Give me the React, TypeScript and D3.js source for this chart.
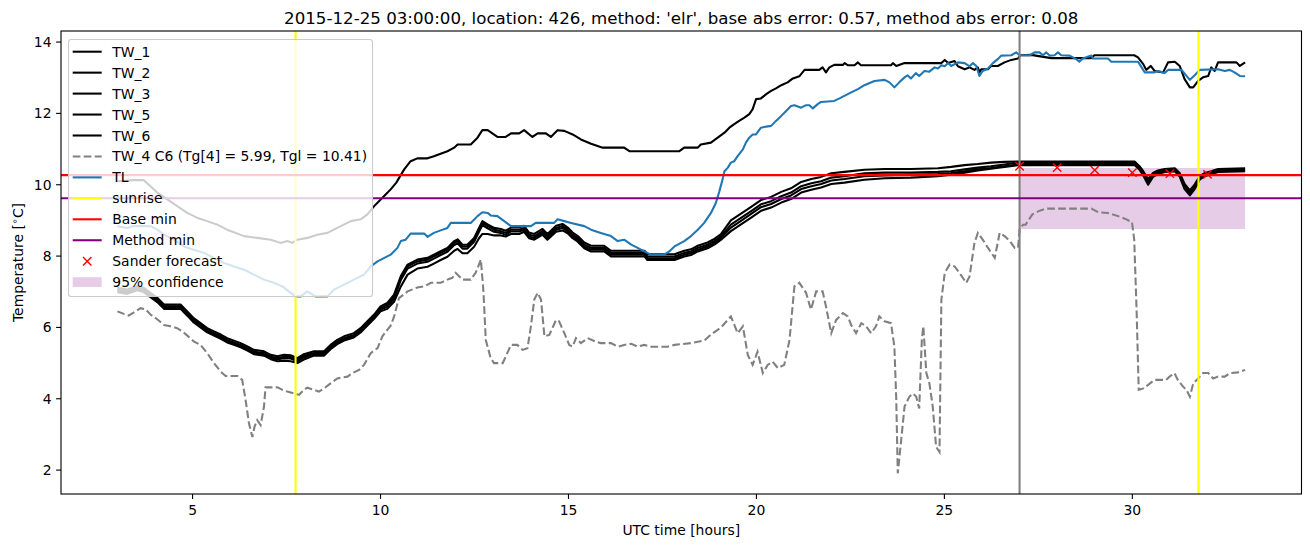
import React from "react";
import * as d3 from "d3";

type P = [number, number];

// ---------- data ----------
const title =
  "2015-12-25 03:00:00, location: 426, method: 'elr', base abs error: 0.57, method abs error: 0.08";
const xTicks = [5, 10, 15, 20, 25, 30];
const yTicks = [2, 4, 6, 8, 10, 12, 14];

const tw1: P[] = [
  [3.0, 10.1], [3.44, 10.13], [3.7, 10.13], [3.88, 9.96], [4.06, 9.78], [4.33, 9.59], [4.59, 9.4], [4.86, 9.21], [5.13, 9.07], [5.39, 8.98],
  [5.66, 8.88], [5.92, 8.74], [6.37, 8.56], [6.72, 8.51], [7.08, 8.46], [7.34, 8.37], [7.52, 8.42], [7.65, 8.37], [7.79, 8.46], [8.05, 8.51],
  [8.32, 8.6], [8.59, 8.65], [8.85, 8.79], [9.21, 8.98], [9.47, 9.03], [9.65, 9.17], [9.83, 9.4], [10.09, 9.68], [10.27, 9.87], [10.42, 10.06],
  [10.63, 10.43], [10.8, 10.66], [10.98, 10.74], [11.25, 10.74], [11.42, 10.8], [11.6, 10.87], [11.78, 10.94], [11.96, 11.04], [12.05, 11.13], [12.4, 11.13],
  [12.58, 11.32], [12.71, 11.53], [12.85, 11.53], [13.11, 11.34], [13.33, 11.34], [13.47, 11.44], [13.69, 11.44], [13.82, 11.53], [14.04, 11.34], [14.18, 11.44],
  [14.4, 11.44], [14.53, 11.34], [14.71, 11.53], [14.89, 11.51], [15.11, 11.41], [15.33, 11.27], [15.6, 11.15], [15.91, 11.04], [16.48, 11.04], [16.62, 10.94],
  [17.95, 10.94], [18.08, 11.04], [18.44, 11.04], [18.52, 11.13], [18.79, 11.18], [18.97, 11.32], [19.15, 11.46], [19.28, 11.6], [19.41, 11.7], [19.54, 11.79],
  [19.68, 11.88], [19.81, 11.98], [19.9, 12.12], [19.99, 12.4], [20.12, 12.42], [20.26, 12.54], [20.39, 12.63], [20.52, 12.7], [20.66, 12.79], [20.83, 12.87],
  [20.97, 12.98], [21.14, 13.04], [21.28, 13.22], [21.67, 13.22], [21.76, 13.29], [21.85, 13.15], [21.94, 13.29], [22.07, 13.36], [22.3, 13.36], [22.35, 13.41],
  [22.43, 13.35], [22.61, 13.35], [22.7, 13.43], [22.78, 13.35], [23.58, 13.35], [23.63, 13.41], [23.72, 13.33], [23.94, 13.41], [24.92, 13.41], [25.01, 13.5],
  [25.1, 13.41], [25.27, 13.47], [25.36, 13.32], [25.54, 13.24], [25.67, 13.29], [25.8, 13.22], [25.89, 13.29], [25.93, 13.15], [25.98, 13.24], [26.16, 13.24],
  [26.24, 13.33], [26.42, 13.33], [26.6, 13.43], [26.78, 13.5], [26.96, 13.54], [27.02, 13.63], [27.31, 13.64], [27.84, 13.55], [28.91, 13.55], [28.99, 13.63],
  [30.05, 13.63], [30.15, 13.57], [30.29, 13.38], [30.37, 13.22], [30.49, 13.33], [30.59, 13.19], [30.82, 13.15], [30.95, 13.43], [31.13, 13.45], [31.26, 13.33],
  [31.39, 12.96], [31.53, 12.73], [31.62, 12.73], [31.75, 12.91], [31.88, 13.01], [32.02, 13.05], [32.1, 13.29], [32.19, 13.19], [32.28, 13.43], [32.77, 13.43],
  [32.86, 13.33], [33.0, 13.43],
];

const bundleHours = [
  3.0, 3.26, 3.53, 3.7, 3.88, 4.06, 4.24, 4.68, 4.86, 5.03,
  5.21, 5.39, 5.57, 5.75, 5.92, 6.1, 6.28, 6.46, 6.63, 6.9,
  7.08, 7.26, 7.43, 7.61, 7.79, 7.96, 8.23, 8.5, 8.67, 8.85,
  9.03, 9.29, 9.47, 9.65, 9.83, 10.0,
  10.18, 10.36, 10.54, 10.72, 10.98, 11.25, 11.42, 11.6, 11.78, 11.96,
  12.05, 12.18, 12.31, 12.49, 12.62, 12.71, 12.85, 13.02,
  13.2, 13.33, 13.47, 13.69, 13.82, 13.95, 14.09, 14.31, 14.44, 14.67,
  14.84, 14.98, 15.11, 15.24, 15.42, 15.6, 15.95, 16.13, 17.02, 17.1,
  17.82, 18.08, 18.26, 18.44, 18.7, 18.88, 19.06,
  19.32, 19.59, 19.86, 20.12, 20.39, 20.66, 20.92, 21.19, 21.46,
  21.72, 21.99, 22.34, 22.87, 23.41, 24.11, 24.83, 25.18, 25.54, 25.89,
  26.24, 26.6, 26.96,
  27.04, 30.06, 30.19, 30.29, 30.42, 30.55, 30.68, 30.86, 31.13, 31.26,
  31.39, 31.53, 31.66, 31.79, 31.93, 32.1, 32.28, 33.0,
];

const tw2Values = [
  7.11, 7.06, 7.16, 7.11, 6.97, 6.83, 6.64, 6.64, 6.45, 6.26,
  6.12, 5.98, 5.89, 5.8, 5.7, 5.63, 5.56, 5.47, 5.37, 5.33,
  5.23, 5.19, 5.23, 5.22, 5.14, 5.25, 5.33, 5.33, 5.51, 5.65,
  5.75, 5.84, 5.98, 6.17, 6.36, 6.59,
  6.69, 6.92, 7.44, 7.76, 7.9, 7.95, 8.04, 8.14, 8.23, 8.42,
  8.47, 8.32, 8.32, 8.51, 8.79, 8.98, 8.89, 8.79,
  8.76, 8.71, 8.8, 8.8, 8.85, 8.66, 8.62, 8.76, 8.62, 8.85,
  8.9, 8.8, 8.66, 8.57, 8.38, 8.29, 8.29, 8.15, 8.15, 8.05,
  8.05, 8.15, 8.19, 8.29, 8.38, 8.48, 8.62,
  9.0, 9.19, 9.38, 9.57, 9.66, 9.8, 9.9, 10.08, 10.16,
  10.22, 10.32, 10.36, 10.42, 10.44, 10.44, 10.46, 10.5, 10.55, 10.58,
  10.62, 10.64, 10.65,
  10.65, 10.65, 10.52, 10.38, 10.16, 10.33, 10.4, 10.44, 10.46, 10.33,
  10.02, 9.84, 10.01, 10.24, 10.33, 10.38, 10.44, 10.46,
];

const tw3Values = [
  7.06, 7.01, 7.11, 7.06, 6.92, 6.78, 6.59, 6.59, 6.4, 6.21,
  6.07, 5.93, 5.84, 5.75, 5.65, 5.58, 5.51, 5.42, 5.32, 5.28,
  5.18, 5.14, 5.18, 5.17, 5.09, 5.2, 5.28, 5.28, 5.46, 5.6,
  5.7, 5.79, 5.93, 6.12, 6.31, 6.54,
  6.64, 6.87, 7.39, 7.71, 7.85, 7.9, 7.99, 8.09, 8.18, 8.37,
  8.42, 8.27, 8.27, 8.46, 8.74, 8.93, 8.84, 8.74,
  8.7, 8.65, 8.74, 8.74, 8.79, 8.6, 8.56, 8.7, 8.56, 8.79,
  8.84, 8.74, 8.6, 8.51, 8.32, 8.23, 8.23, 8.09, 8.09, 7.99,
  7.99, 8.09, 8.13, 8.23, 8.32, 8.42, 8.56,
  8.88, 9.07, 9.26, 9.45, 9.54, 9.68, 9.78, 9.96, 10.04,
  10.1, 10.2, 10.24, 10.32, 10.34, 10.34, 10.36, 10.38, 10.43, 10.48,
  10.52, 10.57, 10.62,
  10.62, 10.62, 10.48, 10.34, 10.1, 10.29, 10.36, 10.41, 10.43, 10.29,
  9.96, 9.78, 9.96, 10.2, 10.29, 10.34, 10.41, 10.43,
];

const tw5Values = [
  7.02, 6.97, 7.07, 7.02, 6.88, 6.74, 6.55, 6.55, 6.36, 6.17,
  6.03, 5.89, 5.8, 5.71, 5.61, 5.54, 5.47, 5.38, 5.28, 5.24,
  5.14, 5.1, 5.14, 5.13, 5.05, 5.16, 5.24, 5.24, 5.42, 5.56,
  5.66, 5.75, 5.89, 6.08, 6.27, 6.5,
  6.58, 6.81, 7.33, 7.65, 7.79, 7.84, 7.93, 8.03, 8.12, 8.31,
  8.36, 8.21, 8.21, 8.4, 8.68, 8.87, 8.78, 8.68,
  8.65, 8.6, 8.69, 8.69, 8.74, 8.55, 8.51, 8.65, 8.51, 8.74,
  8.79, 8.69, 8.55, 8.46, 8.27, 8.18, 8.18, 8.04, 8.04, 7.94,
  7.94, 8.04, 8.08, 8.18, 8.27, 8.37, 8.51,
  8.8, 8.99, 9.18, 9.37, 9.46, 9.6, 9.7, 9.88, 9.96,
  10.02, 10.12, 10.16, 10.24, 10.26, 10.28, 10.3, 10.33, 10.38, 10.43,
  10.47, 10.52, 10.57,
  10.59, 10.59, 10.45, 10.3, 10.05, 10.25, 10.33, 10.38, 10.4, 10.26,
  9.92, 9.74, 9.92, 10.17, 10.26, 10.31, 10.38, 10.4,
];

const tw6Values = [
  6.99, 6.94, 7.04, 6.99, 6.85, 6.71, 6.52, 6.52, 6.33, 6.14,
  6.0, 5.86, 5.77, 5.68, 5.58, 5.51, 5.44, 5.35, 5.25, 5.21,
  5.11, 5.05, 5.07, 5.05, 5.0, 5.1, 5.21, 5.21, 5.39, 5.53,
  5.63, 5.72, 5.86, 6.05, 6.24, 6.45,
  6.52, 6.72, 7.15, 7.48, 7.65, 7.7, 7.79, 7.89, 7.98, 8.15,
  8.2, 8.08, 8.08, 8.26, 8.5, 8.62, 8.62, 8.58,
  8.58, 8.55, 8.62, 8.62, 8.68, 8.5, 8.46, 8.6, 8.46, 8.68,
  8.72, 8.64, 8.5, 8.41, 8.22, 8.13, 8.13, 7.99, 7.99, 7.89,
  7.89, 7.99, 8.03, 8.13, 8.22, 8.32, 8.46,
  8.7, 8.89, 9.08, 9.27, 9.36, 9.5, 9.6, 9.78, 9.86,
  9.92, 10.02, 10.06, 10.14, 10.18, 10.2, 10.24, 10.28, 10.34, 10.4,
  10.45, 10.5, 10.55,
  10.55, 10.55, 10.42, 10.26, 10.0, 10.22, 10.3, 10.36, 10.38, 10.23,
  9.88, 9.7, 9.88, 10.14, 10.24, 10.3, 10.36, 10.38,
];

const tw4: P[] = [
  [3.0, 6.45], [3.17, 6.38], [3.3, 6.33], [3.44, 6.42], [3.62, 6.54], [3.75, 6.51], [3.88, 6.36], [4.06, 6.23], [4.24, 6.07], [4.41, 6.03],
  [4.59, 5.98], [4.73, 5.89], [4.86, 5.77], [5.03, 5.61], [5.21, 5.51], [5.39, 5.28], [5.57, 5.0], [5.75, 4.76], [5.88, 4.64], [6.19, 4.64],
  [6.32, 4.53], [6.41, 3.97], [6.5, 3.31], [6.59, 2.93], [6.65, 3.22], [6.72, 3.4], [6.81, 3.26], [6.9, 3.78], [6.94, 4.32], [7.26, 4.32],
  [7.39, 4.25], [7.52, 4.2], [7.7, 4.15], [7.83, 4.11], [7.96, 4.25], [8.05, 4.31], [8.23, 4.25], [8.36, 4.2], [8.5, 4.29], [8.67, 4.43],
  [8.85, 4.57], [9.12, 4.62], [9.25, 4.72], [9.43, 4.81], [9.56, 4.95], [9.74, 5.28], [9.92, 5.42], [10.05, 5.75], [10.18, 5.93], [10.27, 6.05],
  [10.36, 6.3], [10.49, 6.82], [10.72, 7.01], [10.98, 7.12], [11.16, 7.15], [11.34, 7.25], [11.6, 7.25], [11.78, 7.34], [11.91, 7.39], [12.0, 7.53],
  [12.18, 7.34], [12.4, 7.34], [12.53, 7.53], [12.67, 7.9], [12.74, 6.97], [12.8, 5.65], [12.93, 5.14], [13.02, 5.0], [13.25, 5.0], [13.33, 5.18],
  [13.47, 5.51], [13.64, 5.51], [13.78, 5.37], [13.91, 5.42], [14.0, 6.03], [14.09, 6.78], [14.18, 6.97], [14.27, 6.78], [14.36, 5.75], [14.49, 5.79],
  [14.67, 6.21], [14.75, 6.17], [14.89, 5.84], [15.02, 5.51], [15.11, 5.46], [15.2, 5.7], [15.33, 5.56], [15.51, 5.7], [15.7, 5.61], [15.86, 5.56],
  [16.13, 5.56], [16.31, 5.46], [16.48, 5.51], [16.67, 5.54], [16.84, 5.46], [17.02, 5.51], [17.19, 5.46], [17.64, 5.46], [17.82, 5.51], [18.26, 5.56],
  [18.61, 5.63], [18.79, 5.8], [19.06, 6.0], [19.32, 6.31], [19.5, 5.84], [19.64, 6.03], [19.77, 5.23], [19.9, 4.95], [20.03, 5.32], [20.17, 4.72],
  [20.3, 4.95], [20.43, 5.04], [20.57, 4.86], [20.74, 4.95], [20.88, 5.65], [21.01, 7.15], [21.14, 7.25], [21.32, 6.97], [21.45, 6.5], [21.59, 7.01],
  [21.76, 7.01], [21.85, 6.59], [21.99, 5.84], [22.12, 6.21], [22.3, 6.4], [22.43, 6.31], [22.52, 6.07], [22.65, 5.84], [22.79, 6.12], [22.92, 6.03],
  [23.05, 5.84], [23.18, 6.03], [23.27, 6.31], [23.41, 6.17], [23.58, 6.12], [23.67, 5.46], [23.72, 3.97], [23.76, 1.91], [23.85, 2.84], [23.94, 3.78],
  [24.07, 4.06], [24.16, 4.15], [24.25, 4.06], [24.33, 3.73], [24.4, 5.65], [24.44, 6.03], [24.52, 4.72], [24.6, 4.44], [24.69, 3.78], [24.78, 2.65],
  [24.87, 2.51], [24.92, 6.78], [25.01, 7.53], [25.14, 7.76], [25.27, 7.71], [25.4, 7.53], [25.58, 7.25], [25.67, 7.43], [25.8, 8.37], [25.89, 8.65],
  [26.02, 8.46], [26.16, 8.23], [26.34, 7.95], [26.47, 8.65], [26.6, 8.56], [26.74, 8.42], [26.87, 8.23], [26.96, 8.23], [27.0, 8.74], [27.09, 8.88],
  [27.16, 8.88], [27.34, 9.17], [27.51, 9.26], [27.69, 9.33], [28.91, 9.33], [29.09, 9.23], [29.35, 9.21], [29.62, 9.12], [29.84, 9.03], [29.99, 8.95],
  [30.05, 8.46], [30.11, 6.59], [30.17, 4.25], [30.29, 4.29], [30.42, 4.39], [30.59, 4.53], [30.9, 4.53], [30.99, 4.62], [31.12, 4.72], [31.21, 4.53],
  [31.35, 4.34], [31.44, 4.25], [31.53, 4.06], [31.62, 4.43], [31.75, 4.57], [31.88, 4.72], [32.02, 4.72], [32.15, 4.57], [32.28, 4.62], [32.46, 4.62],
  [32.59, 4.72], [32.81, 4.74], [33.0, 4.81],
];

const tl: P[] = [
  [3.0, 8.84], [3.26, 8.79], [3.44, 8.84], [3.88, 8.84], [4.06, 8.74], [4.24, 8.6], [4.5, 8.46], [4.77, 8.27], [5.03, 8.18], [5.3, 8.09],
  [5.57, 7.95], [5.83, 7.81], [6.1, 7.71], [6.37, 7.62], [6.63, 7.48], [6.9, 7.34], [7.16, 7.25], [7.39, 7.15], [7.61, 6.97], [7.74, 6.87],
  [7.88, 6.87], [8.05, 7.01], [8.27, 6.87], [8.59, 6.87], [8.76, 7.06], [9.03, 7.2], [9.29, 7.34], [9.56, 7.48], [9.74, 7.71], [9.92, 7.85],
  [10.18, 7.99], [10.27, 8.04], [10.45, 8.23], [10.54, 8.42], [10.67, 8.46], [10.8, 8.63], [11.16, 8.63], [11.25, 8.54], [11.42, 8.65], [11.6, 8.72],
  [11.78, 8.79], [11.87, 8.93], [12.4, 8.93], [12.58, 9.12], [12.71, 9.23], [12.85, 9.21], [12.93, 9.14], [13.11, 9.12], [13.29, 8.98], [13.47, 8.84],
  [14.0, 8.84], [14.13, 8.93], [14.62, 8.93], [14.71, 9.03], [14.89, 8.98], [15.07, 8.93], [15.42, 8.84], [15.6, 8.74], [15.86, 8.65], [16.13, 8.56],
  [16.31, 8.42], [16.48, 8.46], [16.67, 8.32], [16.93, 8.18], [17.19, 8.04], [17.55, 8.04], [17.68, 8.13], [17.82, 8.27], [18.08, 8.42], [18.26, 8.56],
  [18.44, 8.74], [18.61, 8.93], [18.79, 9.21], [18.92, 9.49], [19.01, 9.8], [19.1, 10.15], [19.15, 10.38], [19.24, 10.48], [19.32, 10.62], [19.41, 10.66],
  [19.5, 10.8], [19.64, 10.99], [19.72, 11.18], [19.81, 11.32], [19.9, 11.41], [19.99, 11.41], [20.12, 11.6], [20.26, 11.63], [20.39, 11.65], [20.52, 11.79],
  [20.66, 11.93], [20.79, 12.07], [20.92, 12.21], [21.01, 12.23], [21.19, 12.16], [21.32, 12.23], [21.41, 12.23], [21.5, 12.14], [21.63, 12.26], [21.72, 12.32],
  [22.07, 12.35], [22.21, 12.42], [22.34, 12.49], [22.52, 12.59], [22.7, 12.68], [22.87, 12.79], [23.14, 12.91], [23.41, 12.94], [23.54, 12.87], [23.67, 12.73],
  [23.8, 12.87], [23.94, 13.01], [24.02, 13.07], [24.11, 12.98], [24.24, 13.13], [24.33, 13.05], [24.47, 13.19], [24.6, 13.17], [24.74, 13.29], [24.83, 13.26],
  [24.92, 13.35], [25.01, 13.32], [25.1, 13.41], [25.18, 13.33], [25.36, 13.43], [25.54, 13.41], [25.67, 13.32], [25.76, 13.41], [25.85, 13.33], [25.93, 13.05],
  [26.02, 13.19], [26.16, 13.26], [26.29, 13.41], [26.42, 13.52], [26.51, 13.62], [26.78, 13.63], [26.91, 13.71], [27.0, 13.63], [27.27, 13.63], [27.4, 13.71],
  [27.53, 13.71], [27.62, 13.63], [27.71, 13.71], [27.8, 13.62], [27.93, 13.63], [28.02, 13.71], [28.11, 13.63], [28.33, 13.62], [28.51, 13.52], [28.59, 13.45],
  [28.68, 13.54], [28.91, 13.62], [28.95, 13.54], [29.35, 13.54], [29.44, 13.45], [30.15, 13.45], [30.33, 13.15], [30.59, 13.15], [30.68, 13.19], [30.86, 13.13],
  [30.95, 13.22], [31.31, 13.22], [31.44, 13.05], [31.53, 12.94], [31.66, 13.07], [31.79, 13.22], [32.28, 13.24], [32.46, 13.19], [32.59, 13.22], [32.72, 13.15],
  [32.86, 13.05], [33.0, 13.04],
];

const sunriseHours = [7.74, 31.76];
const forecastStartHour = 27;
const baseMin = 10.27;
const methodMin = 9.62;
const sanderHours = [27, 28, 29, 30, 31, 32];
const sanderValues = [10.52, 10.48, 10.41, 10.34, 10.31, 10.29];
const confidenceHours = [27, 33];
const confidenceLow = 8.76;
const confidenceHigh = 10.47;

// ---------- layout ----------
const W = 1310;
const H = 547;
const L = 61, R = 1301.5, T = 31, B = 494;
const FONT = "DejaVu Sans, sans-serif";
const LW = 2.08;

const x = d3.scaleLinear().domain([1.5, 34.5]).range([L, R]);
const y = d3.scaleLinear().domain([1.33, 14.31]).range([B, T]);
const line = d3.line<P>().x((d) => x(d[0])).y((d) => y(d[1]));

const toPairs = (vals: number[]): P[] => bundleHours.map((h, i) => [h, vals[i]] as P);

const legendItems: { label: string; kind: string; color: string }[] = [
  { label: "TW_1", kind: "line", color: "#000000" },
  { label: "TW_2", kind: "line", color: "#000000" },
  { label: "TW_3", kind: "line", color: "#000000" },
  { label: "TW_5", kind: "line", color: "#000000" },
  { label: "TW_6", kind: "line", color: "#000000" },
  { label: "TW_4 C6 (Tg[4] = 5.99, Tgl = 10.41)", kind: "dash", color: "#808080" },
  { label: "TL", kind: "line", color: "#1f77b4" },
  { label: "sunrise", kind: "line", color: "#ffff00" },
  { label: "Base min", kind: "line", color: "#ff0000" },
  { label: "Method min", kind: "line", color: "#800080" },
  { label: "Sander forecast", kind: "x", color: "#ff0000" },
  { label: "95% confidence", kind: "patch", color: "#800080" },
];

const XMark = ({ cx, cy, s = 4.2 }: { cx: number; cy: number; s?: number }) => (
  <path
    d={`M${cx - s},${cy - s}L${cx + s},${cy + s}M${cx - s},${cy + s}L${cx + s},${cy - s}`}
    stroke="#ff0000"
    strokeWidth={1.39}
    fill="none"
  />
);

export default function App() {
  const blackSeries: P[][] = [tw1, toPairs(tw2Values), toPairs(tw3Values), toPairs(tw5Values), toPairs(tw6Values)];
  const area = d3
    .area<number>()
    .x((h) => x(h))
    .y0(() => y(confidenceLow))
    .y1(() => y(confidenceHigh));

  const legX = 68.5, legY = 39.5, legW = 304, legH = 257;
  const rowY = (i: number) => 51.7 + 20.95 * i;

  return (
    <svg
      width={W}
      height={H}
      style={{ position: "absolute", left: 0, top: 0, background: "#fff" }}
      fontFamily={FONT}
    >
      <defs>
        <clipPath id="plot">
          <rect x={L} y={T} width={R - L} height={B - T} />
        </clipPath>
      </defs>
      <rect x={0} y={0} width={W} height={H} fill="#fff" />

      <g clipPath="url(#plot)">
        <path d={area(confidenceHours) || ""} fill="#800080" fillOpacity={0.2} />
        {blackSeries.map((s, i) => (
          <path key={i} d={line(s) || ""} fill="none" stroke="#000" strokeWidth={LW} strokeLinejoin="round" />
        ))}
        <path d={line(tw4) || ""} fill="none" stroke="#808080" strokeWidth={LW} strokeDasharray="7.7,3.3" />
        <path d={line(tl) || ""} fill="none" stroke="#1f77b4" strokeWidth={LW} strokeLinejoin="round" />
        {sunriseHours.map((h, i) => (
          <line key={i} x1={x(h)} x2={x(h)} y1={T} y2={B} stroke="#ffff00" strokeWidth={LW} />
        ))}
        <line x1={x(forecastStartHour)} x2={x(forecastStartHour)} y1={T} y2={B} stroke="#808080" strokeWidth={LW} />
        <line x1={L} x2={R} y1={y(baseMin)} y2={y(baseMin)} stroke="#ff0000" strokeWidth={LW} />
        <line x1={L} x2={R} y1={y(methodMin)} y2={y(methodMin)} stroke="#800080" strokeWidth={LW} />
        {sanderHours.map((h, i) => (
          <XMark key={i} cx={x(h)} cy={y(sanderValues[i])} />
        ))}
      </g>

      {/* axes frame */}
      <rect x={L} y={T} width={R - L} height={B - T} fill="none" stroke="#000" strokeWidth={1.11} />

      {/* x ticks */}
      {xTicks.map((t) => (
        <g key={t}>
          <line x1={x(t)} x2={x(t)} y1={B} y2={B + 4.9} stroke="#000" strokeWidth={1.11} />
          <text x={x(t)} y={515} textAnchor="middle" fontSize={13.9} fill="#000">
            {t}
          </text>
        </g>
      ))}
      {/* y ticks */}
      {yTicks.map((t) => (
        <g key={t}>
          <line x1={L - 4.9} x2={L} y1={y(t)} y2={y(t)} stroke="#000" strokeWidth={1.11} />
          <text x={51.5} y={y(t)} textAnchor="end" dominantBaseline="central" fontSize={13.9} fill="#000">
            {t}
          </text>
        </g>
      ))}

      <text x={(L + R) / 2} y={535} textAnchor="middle" fontSize={13.9} fill="#000">
        UTC time [hours]
      </text>
      <text
        transform={`translate(23,${(T + B) / 2}) rotate(-90)`}
        textAnchor="middle"
        fontSize={13.9}
        fill="#000"
      >
        Temperature [<tspan fontSize={9.7} dy={-5}>∘</tspan>
        <tspan dy={5}>C]</tspan>
      </text>

      <text x={(L + R) / 2} y={24} textAnchor="middle" fontSize={16.67} fill="#000">
        {title}
      </text>

      {/* legend */}
      <rect x={legX} y={legY} width={legW} height={legH} rx={2.8} fill="#fff" fillOpacity={0.8} stroke="#cccccc" strokeWidth={1.11} />
      {legendItems.map((it, i) => {
        const cy = rowY(i);
        let handle: React.ReactNode = null;
        if (it.kind === "line")
          handle = <line x1={72.7} x2={101.7} y1={cy} y2={cy} stroke={it.color} strokeWidth={LW} />;
        else if (it.kind === "dash")
          handle = <line x1={72.7} x2={101.7} y1={cy} y2={cy} stroke={it.color} strokeWidth={LW} strokeDasharray="7.7,3.3" />;
        else if (it.kind === "x") handle = <XMark cx={87.2} cy={cy} />;
        else handle = <rect x={72.7} y={cy - 4.9} width={29} height={9.7} fill={it.color} fillOpacity={0.2} />;
        return (
          <g key={it.label}>
            {handle}
            <text x={112.3} y={cy} dominantBaseline="central" fontSize={13.9} fill="#000">
              {it.label}
            </text>
          </g>
        );
      })}
    </svg>
  );
}
